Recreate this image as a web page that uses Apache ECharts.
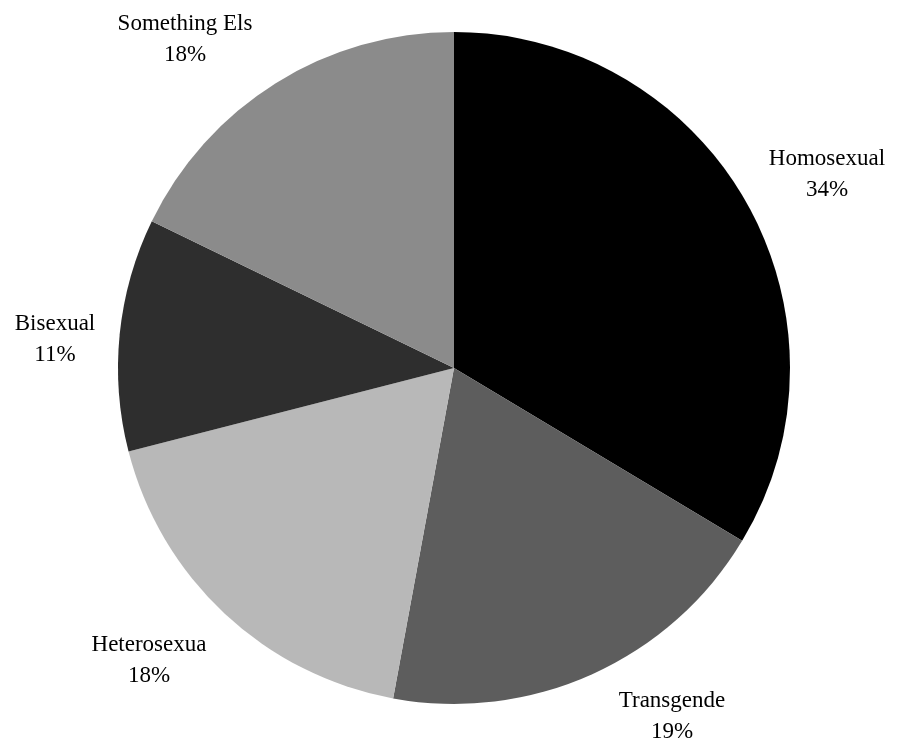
<!DOCTYPE html>
<html>
<head>
<meta charset="utf-8">
<script src="https://cdn.jsdelivr.net/npm/echarts@6/dist/echarts.min.js"></script>
<style>html,body{margin:0;padding:0;background:#fff}#c{width:904px;height:749px}</style>
</head>
<body>
<div id="c"></div>
<script>
const categories = ["Homosexual", "Transgende", "Heterosexua", "Bisexual", "Something Els"];
const values = [33.6, 19.3, 18.1, 11.2, 17.8];
const colors = ["#000000", "#5d5d5d", "#b8b8b8", "#2e2e2e", "#8b8b8b"];
const labelPos = [[827, 174], [672, 716], [149, 660], [55, 339], [185, 39]];

const chart = echarts.init(document.getElementById('c'));
chart.setOption({
  backgroundColor: '#ffffff',
  animation: false,
  series: [{
    type: 'pie',
    center: [454, 368],
    radius: 336,
    startAngle: 90,
    clockwise: true,
    avoidLabelOverlap: false,
    data: categories.map((n, i) => ({ name: n, value: values[i], itemStyle: { color: colors[i] } })),
    itemStyle: { borderWidth: 0 },
    label: {
      show: true,
      position: 'outside',
      formatter: p => p.name + '\n' + Math.round(p.value) + '%',
      fontFamily: 'Liberation Serif',
      fontSize: 23,
      lineHeight: 31,
      color: '#000',
      align: 'center'
    },
    labelLine: { show: false },
    labelLayout: function (p) {
      const pos = labelPos[p.dataIndex];
      return { x: pos[0], y: pos[1], align: 'center', verticalAlign: 'middle' };
    },
    emphasis: { disabled: true }
  }]
});
</script>
</body>
</html>
